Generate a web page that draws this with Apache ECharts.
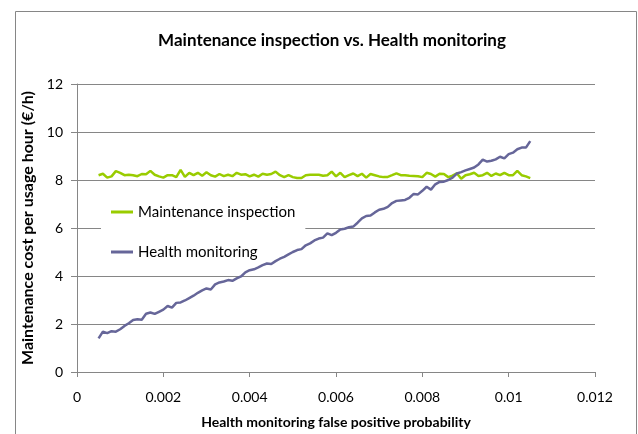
<!DOCTYPE html>
<html>
<head>
<meta charset="utf-8">
<script src="https://cdn.jsdelivr.net/npm/echarts@6/dist/echarts.min.js"></script>
<style>
  html, body { margin: 0; padding: 0; background: #fff; }
  #chart { width: 638px; height: 434px; }
</style>
</head>
<body>
<div id="chart"></div>
<script>
// false positive probability (x values)
const probabilities = [
  0.0005, 0.0006, 0.0007, 0.0008, 0.0009, 0.0010, 0.0011, 0.0012, 0.0013, 0.0014,
  0.0015, 0.0016, 0.0017, 0.0018, 0.0019, 0.0020, 0.0021, 0.0022, 0.0023, 0.0024,
  0.0025, 0.0026, 0.0027, 0.0028, 0.0029, 0.0030, 0.0031, 0.0032, 0.0033, 0.0034,
  0.0035, 0.0036, 0.0037, 0.0038, 0.0039, 0.0040, 0.0041, 0.0042, 0.0043, 0.0044,
  0.0045, 0.0046, 0.0047, 0.0048, 0.0049, 0.0050, 0.0051, 0.0052, 0.0053, 0.0054,
  0.0055, 0.0056, 0.0057, 0.0058, 0.0059, 0.0060, 0.0061, 0.0062, 0.0063, 0.0064,
  0.0065, 0.0066, 0.0067, 0.0068, 0.0069, 0.0070, 0.0071, 0.0072, 0.0073, 0.0074,
  0.0075, 0.0076, 0.0077, 0.0078, 0.0079, 0.0080, 0.0081, 0.0082, 0.0083, 0.0084,
  0.0085, 0.0086, 0.0087, 0.0088, 0.0089, 0.0090, 0.0091, 0.0092, 0.0093, 0.0094,
  0.0095, 0.0096, 0.0097, 0.0098, 0.0099, 0.0100, 0.0101, 0.0102, 0.0103, 0.0104,
  0.0105
]

// Maintenance inspection cost (€/h)
const inspectionCost = [
  8.20, 8.26, 8.10, 8.15, 8.37, 8.30, 8.20, 8.22, 8.20, 8.16,
  8.25, 8.24, 8.38, 8.22, 8.15, 8.10, 8.20, 8.20, 8.12, 8.42,
  8.13, 8.30, 8.20, 8.30, 8.18, 8.32, 8.20, 8.14, 8.25, 8.16,
  8.22, 8.16, 8.30, 8.22, 8.24, 8.15, 8.22, 8.14, 8.26, 8.22,
  8.25, 8.35, 8.20, 8.12, 8.20, 8.12, 8.08, 8.08, 8.20, 8.22,
  8.22, 8.22, 8.18, 8.20, 8.35, 8.15, 8.30, 8.12, 8.20, 8.27,
  8.16, 8.26, 8.10, 8.25, 8.20, 8.15, 8.12, 8.13, 8.20, 8.28,
  8.20, 8.20, 8.18, 8.17, 8.16, 8.12, 8.30, 8.25, 8.14, 8.26,
  8.25, 8.12, 8.18, 8.28, 8.05, 8.20, 8.24, 8.30, 8.17, 8.20,
  8.30, 8.17, 8.27, 8.20, 8.30, 8.20, 8.20, 8.38, 8.20, 8.15,
  8.08
]

// Health monitoring cost (€/h)
const monitoringCost = [
  1.40, 1.68, 1.62, 1.70, 1.68, 1.78, 1.92, 2.03, 2.17, 2.20,
  2.18, 2.43, 2.48, 2.42, 2.51, 2.60, 2.75, 2.68, 2.88, 2.90,
  2.98, 3.08, 3.18, 3.30, 3.40, 3.48, 3.44, 3.65, 3.73, 3.77,
  3.83, 3.80, 3.90, 3.98, 4.15, 4.24, 4.28, 4.36, 4.45, 4.52,
  4.50, 4.62, 4.72, 4.80, 4.90, 5.00, 5.08, 5.12, 5.28, 5.36,
  5.48, 5.56, 5.60, 5.78, 5.70, 5.80, 5.94, 5.97, 6.03, 6.06,
  6.22, 6.40, 6.50, 6.52, 6.65, 6.76, 6.80, 6.88, 7.04, 7.13,
  7.15, 7.17, 7.26, 7.42, 7.40, 7.55, 7.72, 7.60, 7.82, 7.92,
  7.93, 8.00, 8.10, 8.27, 8.33, 8.40, 8.46, 8.52, 8.65, 8.85,
  8.77, 8.80, 8.86, 8.97, 8.90, 9.08, 9.14, 9.28, 9.35, 9.35,
  9.62
]

const seriesNames = ['Maintenance inspection', 'Health monitoring']
const xTicks = { min: 0, max: 0.012, interval: 0.002 }
const yTicks = { min: 0, max: 12, interval: 2 }

const font = 'Lato, "Open Sans", sans-serif'
const axisGray = '#868686'
const textColor = '#000'

const pairs = (ys) => probabilities.map((x, i) => [x, ys[i]])

const chart = echarts.init(document.getElementById('chart'))
chart.setOption({
  backgroundColor: '#fff',
  animation: false,
  graphic: [{
    type: 'rect',
    shape: { x: 15.5, y: 11.5, width: 621, height: 480 },
    style: { fill: 'none', stroke: axisGray, lineWidth: 1 },
    silent: true,
    z: -1
  }],
  title: {
    text: 'Maintenance inspection vs. Health monitoring',
    left: 327,
    textAlign: 'center',
    top: 27,
    textStyle: { fontFamily: font, fontSize: 17, fontWeight: 'bold', color: textColor }
  },
  grid: { left: 77, right: 43, top: 84, bottom: 62, containLabel: false },
  legend: {
    data: seriesNames,
    orient: 'vertical',
    left: 101,
    top: 190,
    z: 1,
    padding: [14, 10, 10, 10],
    itemGap: 24,
    itemWidth: 22,
    itemHeight: 3,
    icon: 'rect',
    backgroundColor: '#fff',
    textStyle: { fontFamily: font, fontSize: 15, color: textColor, lineHeight: 16 }
  },
  xAxis: {
    type: 'value',
    min: xTicks.min,
    max: xTicks.max,
    interval: xTicks.interval,
    name: 'Health monitoring false positive probability',
    nameLocation: 'middle',
    nameGap: 43,
    nameTextStyle: { fontFamily: font, fontSize: 14, fontWeight: 'bold', color: textColor },
    axisLine: { lineStyle: { color: axisGray, width: 1 } },
    axisTick: { show: true, length: 5, lineStyle: { color: axisGray } },
    axisLabel: {
      margin: 18,
      fontFamily: font, fontSize: 14, color: textColor,
      formatter: (v) => String(+v.toFixed(3))
    },
    splitLine: { show: false }
  },
  yAxis: {
    type: 'value',
    min: yTicks.min,
    max: yTicks.max,
    interval: yTicks.interval,
    name: 'Maintenance cost per usage hour (€/h)',
    nameLocation: 'middle',
    nameGap: 39,
    nameTextStyle: { fontFamily: font, fontSize: 16, fontWeight: 'bold', color: textColor },
    axisLine: { show: true, lineStyle: { color: axisGray, width: 1 } },
    axisTick: { show: true, length: 6, lineStyle: { color: axisGray } },
    axisLabel: { margin: 14, fontFamily: font, fontSize: 14, color: textColor },
    splitLine: { show: true, lineStyle: { color: axisGray, width: 1 } }
  },
  series: [
    {
      name: seriesNames[0],
      type: 'line',
      z: 3,
      data: pairs(inspectionCost),
      showSymbol: false,
      color: '#99cc00',
      lineStyle: { color: '#99cc00', width: 2.5 }
    },
    {
      name: seriesNames[1],
      type: 'line',
      z: 3,
      data: pairs(monitoringCost),
      showSymbol: false,
      color: '#666699',
      lineStyle: { color: '#666699', width: 2.5 }
    }
  ]
})
</script>
</body>
</html>
